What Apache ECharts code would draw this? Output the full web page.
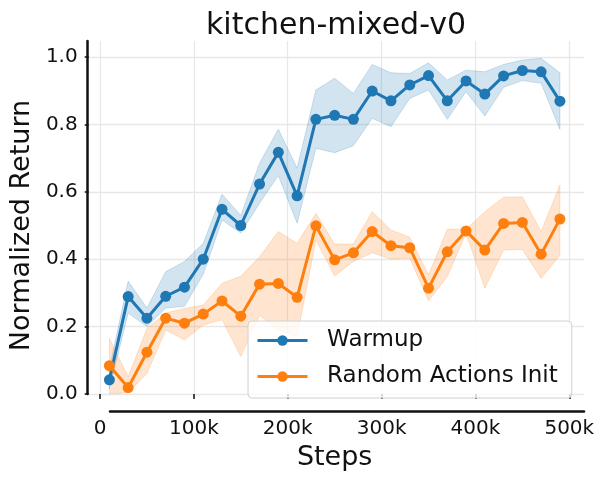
<!DOCTYPE html>
<html>
<head>
<meta charset="utf-8">
<script src="https://cdn.jsdelivr.net/npm/echarts@6/dist/echarts.min.js"></script>
<style>html,body{margin:0;padding:0;background:#fff}#c{width:605px;height:484px}</style>
</head>
<body>
<div id="c"></div>
<script>
var steps = [10000,30000,50000,70000,90000,110000,130000,150000,170000,190000,210000,230000,250000,270000,290000,310000,330000,350000,370000,390000,410000,430000,450000,470000,490000];
var warmup     = [0.042,0.289,0.225,0.290,0.317,0.400,0.548,0.500,0.623,0.717,0.588,0.815,0.827,0.815,0.899,0.870,0.917,0.945,0.870,0.929,0.890,0.944,0.960,0.956,0.869];
var warmupLow  = [0.015,0.240,0.200,0.255,0.260,0.355,0.516,0.478,0.566,0.648,0.507,0.729,0.716,0.737,0.818,0.793,0.877,0.902,0.815,0.897,0.825,0.910,0.930,0.922,0.785];
var warmupHigh = [0.075,0.335,0.255,0.363,0.393,0.447,0.593,0.530,0.685,0.786,0.670,0.902,0.937,0.892,0.978,0.953,0.951,0.983,0.932,0.961,0.956,0.978,0.991,0.996,0.953];
var randomInit     = [0.084,0.019,0.124,0.225,0.210,0.237,0.276,0.231,0.326,0.328,0.287,0.499,0.398,0.419,0.482,0.440,0.434,0.314,0.422,0.484,0.427,0.506,0.509,0.415,0.519];
var randomInitLow  = [0.000,0.004,0.061,0.190,0.160,0.205,0.220,0.111,0.234,0.190,0.170,0.457,0.350,0.393,0.419,0.400,0.403,0.277,0.348,0.477,0.314,0.427,0.429,0.343,0.412];
var randomInitHigh = [0.165,0.051,0.195,0.240,0.254,0.264,0.328,0.350,0.407,0.482,0.447,0.536,0.445,0.445,0.541,0.487,0.465,0.353,0.489,0.489,0.541,0.584,0.585,0.482,0.620];
var xTickLabels = ['0','100k','200k','300k','400k','500k'];
var yTickLabels = ['0.0','0.2','0.4','0.6','0.8','1.0'];

var BLUE = '#1f77b4', ORANGE = '#ff7f0e';
var BLUE_A = 'rgba(31,119,180,0.2)', ORANGE_A = 'rgba(255,127,14,0.2)';
var FONT = 'DejaVu Sans', INK = '#111';

function pairs(xs, ys){ return xs.map(function(x,i){ return [x, ys[i]]; }); }

function band(name, lo, hi, colA){
  return {
    name:name, type:'custom', xAxisIndex:0, yAxisIndex:0, silent:true, z:1,
    data: steps.map(function(x,i){ return [x, lo[i], hi[i]]; }),
    encode:{x:0, y:[1,2]},
    renderItem:function(params, api){
      if (params.dataIndex !== 0) return null;
      var pts = [], i;
      for (i = 0; i < steps.length; i++) pts.push(api.coord([steps[i], hi[i]]));
      for (i = steps.length - 1; i >= 0; i--) pts.push(api.coord([steps[i], lo[i]]));
      return {type:'polygon', shape:{points:pts},
              style:{fill:colA, stroke:colA, lineWidth:1}};
    }
  };
}
function mainLine(name, ys, col){
  return {name:name, type:'line', xAxisIndex:0, yAxisIndex:0, data:pairs(steps, ys),
    symbol:'circle', symbolSize:11, showSymbol:true,
    itemStyle:{color:col}, lineStyle:{width:3, color:col}, z:3};
}

var hidden = {show:false};
var option = {
  animation:false,
  textStyle:{fontFamily:FONT, color:INK},
  title:{text:'kitchen-mixed-v0', left:201, top:6,
         textStyle:{fontFamily:FONT, fontSize:30, fontWeight:'normal', color:INK}},
  legend:{
    data:['Warmup','Random Actions Init'], orient:'vertical', left:248, top:321,
    padding:[8,14,10,8], itemGap:13, itemWidth:50, itemHeight:13,
    backgroundColor:'rgba(255,255,255,0.8)', borderColor:'#d0d0d0', borderWidth:1, borderRadius:4,
    lineStyle:{width:3},
    formatter:function(n){ return '  ' + n; },
    textStyle:{fontFamily:FONT, fontSize:23, color:INK}
  },
  grid:[
    {left:100, right:35.7, top:41, bottom:86},
    {left:87, right:21, top:57, bottom:90},
    {left:87, right:21, top:41, bottom:90},
    {left:110, right:21, top:41, bottom:73}
  ],
  xAxis:[
    {gridIndex:0, type:'value', min:0, max:500000, interval:100000, position:'bottom', offset:13,
     axisLine:{show:false}, axisTick:{show:true, length:5, lineStyle:{color:INK, width:1.5}},
     axisLabel:{margin:8, fontSize:20, fontFamily:FONT, color:INK,
       formatter:function(v){ return xTickLabels[Math.round(v/100000)]; }},
     splitLine:{show:true, lineStyle:{color:'#e8e8e8', width:1.3}},
     name:'Steps', nameLocation:'middle', nameGap:33,
     nameTextStyle:{fontFamily:FONT, fontSize:27, color:INK}},
    {gridIndex:1, type:'value', min:0, max:1, show:false},
    {gridIndex:2, type:'value', min:0, max:1, show:false},
    {gridIndex:3, type:'value', min:0, max:1, position:'bottom',
     axisLine:{show:true, lineStyle:{color:INK, width:2.5}}, axisTick:hidden, axisLabel:hidden, splitLine:hidden}
  ],
  yAxis:[
    {gridIndex:0, type:'value', min:-0.0119, max:1.0475, show:false},
    {gridIndex:1, type:'value', min:0, max:1, interval:0.2,
     axisLine:{show:false}, axisTick:{show:true, length:4, lineStyle:{color:INK, width:1.5}},
     axisLabel:{margin:11, fontSize:20, fontFamily:FONT, color:INK,
       formatter:function(v){ return yTickLabels[Math.round(v/0.2)]; }},
     splitLine:{show:true, lineStyle:{color:'#e8e8e8', width:1.3}},
     name:'Normalized Return', nameLocation:'middle', nameGap:50,
     nameTextStyle:{fontFamily:FONT, fontSize:27, color:INK}},
    {gridIndex:2, type:'value', min:0, max:1,
     axisLine:{show:true, lineStyle:{color:INK, width:2.5}}, axisTick:hidden, axisLabel:hidden, splitLine:hidden},
    {gridIndex:3, type:'value', min:0, max:1, show:false}
  ],
  series: [
    band('warmupBand', warmupLow, warmupHigh, BLUE_A),
    band('randomBand', randomInitLow, randomInitHigh, ORANGE_A),
    mainLine('Warmup', warmup, BLUE),
    mainLine('Random Actions Init', randomInit, ORANGE)
  ]
};
var chart = echarts.init(document.getElementById('c'), null, {renderer:'canvas'});
chart.setOption(option);
</script>
</body>
</html>
